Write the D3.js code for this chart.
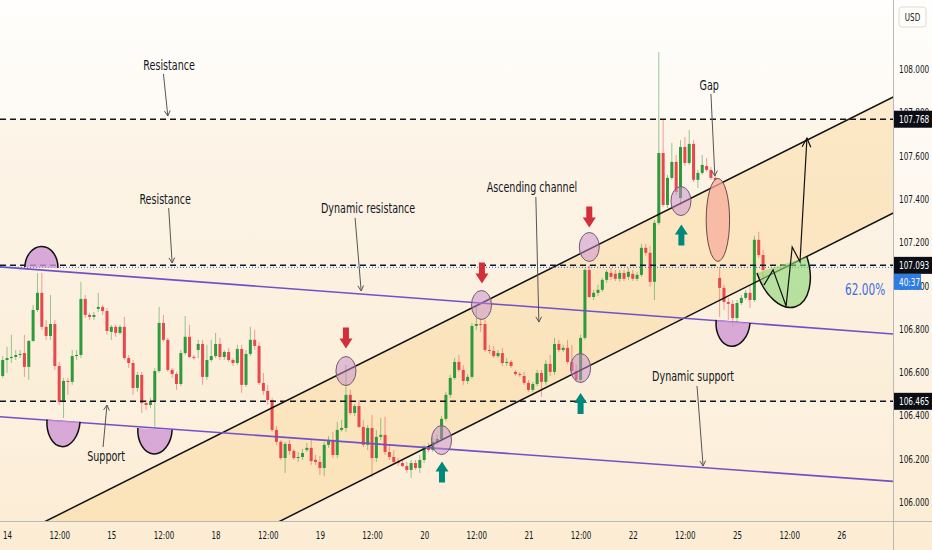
<!DOCTYPE html>
<html>
<head>
<meta charset="utf-8">
<script src="https://cdn.jsdelivr.net/npm/d3@7"></script>
<style>
  body { margin: 0; background: #fff; }
  svg { display: block; }
  text { font-family: "Liberation Sans Narrow", "Arial Narrow", "DejaVu Sans Condensed", sans-serif; }
</style>
</head>
<body>
<svg id="chart" width="932" height="550"></svg>
<script>
// hourly candles, one slot per hour (slot 1 = day 14 00:00)
const opens = [
  106.582,106.656,106.665,106.670,106.679,106.688,106.624,106.744,106.887,106.966,
  106.809,106.767,106.822,106.628,106.462,106.559,106.555,106.674,106.679,106.938,
  106.864,106.855,106.892,106.901,106.882,106.786,106.809,106.781,106.809,106.665,
  106.642,106.527,106.587,106.457,106.448,106.467,106.605,106.827,106.749,106.610,
  106.591,106.545,106.688,106.763,106.670,106.702,106.730,106.578,106.656,106.674,
  106.730,106.670,106.693,106.656,106.642,106.707,106.541,106.684,106.749,106.721,
  106.550,106.513,106.471,106.333,106.278,106.203,106.268,106.236,106.203,106.208,
  106.240,106.250,106.195,106.185,106.157,106.264,106.287,106.217,106.333,106.342,
  106.495,106.411,106.443,106.347,106.264,106.342,106.203,106.301,106.310,106.231,
  106.208,106.185,106.180,106.166,106.148,106.180,106.157,106.194,106.255,106.240,
  106.278,106.291,106.384,106.495,106.573,106.647,106.610,106.559,106.578,106.813,
  106.822,106.822,106.702,106.698,106.674,106.688,106.642,106.647,106.601,106.591,
  106.582,106.550,106.518,106.545,106.596,106.555,106.638,106.601,106.730,106.702,
  106.712,106.647,106.605,106.564,106.758,107.072,106.947,106.966,106.980,107.026,
  107.058,107.054,107.031,107.058,107.040,107.054,107.031,107.049,107.174,107.151,
  107.017,107.289,107.612,107.372,107.497,107.571,107.404,107.640,107.566,107.654,
  107.488,107.520,107.552,107.534,107.497,107.035,106.989,106.924,106.915,106.850,
  106.919,106.943,106.966,106.933,107.211,107.141
];
const highs = [
  106.674,106.717,106.772,106.702,106.702,106.772,106.749,106.910,107.058,107.058,
  106.841,106.956,106.841,106.647,106.573,106.573,106.702,106.702,107.017,106.956,
  106.873,106.878,106.966,106.910,106.896,106.818,106.818,106.818,106.855,106.679,
  106.656,106.601,106.601,106.471,106.481,106.619,106.901,106.864,106.758,106.619,
  106.601,106.702,106.859,106.818,106.679,106.749,106.749,106.726,106.749,106.781,
  106.758,106.702,106.712,106.665,106.726,106.726,106.702,106.809,106.795,106.740,
  106.596,106.541,106.481,106.351,106.287,106.278,106.287,106.245,106.231,106.245,
  106.273,106.287,106.217,106.212,106.278,106.305,106.324,106.370,106.379,106.633,
  106.518,106.453,106.471,106.379,106.356,106.402,106.333,106.388,106.393,106.264,
  106.240,106.203,106.194,106.185,106.194,106.194,106.217,106.264,106.273,106.296,
  106.310,106.397,106.509,106.587,106.665,106.679,106.633,106.591,106.827,106.910,
  106.850,106.841,106.726,106.721,106.702,106.712,106.665,106.656,106.610,106.601,
  106.601,106.564,106.555,106.610,106.610,106.656,106.679,106.758,106.749,106.726,
  106.749,106.726,106.633,106.772,107.081,107.095,106.980,107.003,107.035,107.072,
  107.081,107.072,107.072,107.072,107.081,107.072,107.063,107.192,107.192,107.183,
  107.303,108.079,107.765,107.511,107.658,107.603,107.672,107.686,107.719,107.672,
  107.534,107.603,107.589,107.548,107.511,107.086,107.003,106.943,106.933,106.933,
  106.956,106.980,107.003,107.229,107.248,107.164
];
const lows = [
  106.573,106.596,106.642,106.656,106.665,106.578,106.564,106.740,106.878,106.795,
  106.749,106.749,106.610,106.448,106.388,106.495,106.541,106.656,106.665,106.850,
  106.841,106.841,106.878,106.864,106.772,106.749,106.763,106.772,106.656,106.619,
  106.495,106.509,106.411,106.425,106.434,106.347,106.596,106.740,106.601,106.573,
  106.518,106.536,106.679,106.665,106.656,106.665,106.541,106.564,106.647,106.665,
  106.656,106.656,106.647,106.628,106.633,106.504,106.532,106.674,106.702,106.541,
  106.495,106.448,106.324,106.264,106.194,106.134,106.217,106.194,106.185,106.194,
  106.231,106.171,106.171,106.125,106.120,106.250,106.203,106.203,106.324,106.324,
  106.402,106.397,106.342,106.255,106.240,106.116,106.185,106.287,106.217,106.194,
  106.171,106.166,106.162,106.134,106.111,106.148,106.134,106.180,106.231,106.231,
  106.264,106.282,106.374,106.481,106.564,106.601,106.541,106.545,106.568,106.795,
  106.786,106.693,106.684,106.665,106.665,106.628,106.628,106.619,106.582,106.578,
  106.541,106.509,106.509,106.536,106.486,106.541,106.582,106.587,106.693,106.693,
  106.638,106.596,106.555,106.550,106.749,106.943,106.933,106.952,106.970,107.012,
  107.026,107.021,107.017,107.021,107.026,107.021,107.021,107.040,107.137,106.994,
  106.933,107.280,107.363,107.358,107.488,107.418,107.372,107.552,107.557,107.478,
  107.451,107.511,107.525,107.488,107.478,106.855,106.887,106.841,106.809,106.818,
  106.910,106.933,106.896,106.924,107.128,107.003
];
const closes = [
  106.656,106.665,106.670,106.679,106.684,106.624,106.744,106.887,106.966,106.809,
  106.767,106.822,106.628,106.462,106.559,106.555,106.674,106.679,106.938,106.864,
  106.855,106.864,106.901,106.882,106.790,106.809,106.781,106.809,106.665,106.642,
  106.527,106.587,106.457,106.448,106.467,106.605,106.827,106.749,106.610,106.591,
  106.545,106.688,106.763,106.670,106.668,106.730,106.578,106.656,106.674,106.730,
  106.670,106.693,106.656,106.642,106.707,106.541,106.684,106.749,106.721,106.550,
  106.513,106.471,106.333,106.278,106.203,106.268,106.236,106.203,106.208,106.226,
  106.250,106.189,106.185,106.157,106.264,106.287,106.217,106.333,106.342,106.495,
  106.411,106.443,106.347,106.264,106.342,106.203,106.301,106.310,106.231,106.208,
  106.185,106.180,106.166,106.148,106.180,106.157,106.194,106.255,106.240,106.278,
  106.291,106.384,106.495,106.573,106.647,106.610,106.559,106.578,106.813,106.822,
  106.818,106.702,106.698,106.674,106.688,106.642,106.647,106.628,106.591,106.587,
  106.550,106.518,106.545,106.596,106.555,106.638,106.601,106.730,106.702,106.712,
  106.647,106.605,106.564,106.758,107.072,106.947,106.966,106.980,107.026,107.063,
  107.040,107.031,107.058,107.031,107.063,107.031,107.049,107.174,107.151,107.017,
  107.289,107.612,107.372,107.497,107.571,107.432,107.640,107.566,107.654,107.488,
  107.520,107.557,107.534,107.497,107.488,106.989,106.924,106.915,106.850,106.919,
  106.943,106.966,106.933,107.211,107.141,107.072
];

const xTickSlots = [1, 13, 25, 37, 49, 61, 73, 85, 97, 109, 121, 133, 145, 157, 169, 181, 193];
const xTickLabels = ["14", "12:00", "15", "12:00", "18", "12:00", "19", "12:00", "20", "12:00",
                     "21", "12:00", "22", "12:00", "25", "12:00", "26"];
const yTicks = [106.0, 106.2, 106.4, 106.6, 106.8, 107.0, 107.2, 107.4, 107.6, 107.8, 108.0];

// drawings
const levels = [107.768, 107.093, 106.465];
const lastPrice = 107.084;
const countdown = "40:37";
const channelUpper = [[0, 105.812], [205, 107.871]];
const channelLower = [[0, 105.268], [205, 107.335]];
const trendUpper = [[0, 107.085], [205, 106.776]];
const trendLower = [[0, 106.393], [205, 106.095]];
const touchEllipses = [[79, 106.605], [101, 106.286], [110.2, 106.910], [135, 107.178], [133, 106.619], [156.1, 107.390]];
const gapEllipse = [164.6, 107.303];
const downArrows = [[79, 106.709], [110.3, 107.009], [135, 107.268]];
const upArrows = [[101.1, 106.187], [133, 106.503], [156.2, 107.282]];
const bowls = [
  { a: [5.1, 107.085], b: [12.7, 107.081], depth: 21, up: true, kind: "purple" },
  { a: [10.2, 106.381], b: [17.8, 106.370], depth: 26, up: false, kind: "purple" },
  { a: [31.1, 106.342], b: [39.0, 106.333], depth: 25, up: false, kind: "purple" },
  { a: [164.2, 106.841], b: [172.0, 106.827], depth: 25, up: false, kind: "purple" },
  { a: [173.6, 107.058], b: [185.1, 107.132], depth: 44, up: false, kind: "green" }
];
const projection = [[175.2, 107.002], [177.3, 107.072], [180.3, 106.905], [181.7, 107.178], [183.5, 107.109], [185.1, 107.681]];
const notes = [
  { text: "Resistance", at: [38.3, 107.995], from: [37.0, 107.977], to: [38.0, 107.783] },
  { text: "Resistance", at: [37.4, 107.376], from: [38.2, 107.358], to: [39.0, 107.104] },
  { text: "Dynamic resistance", at: [84.1, 107.335], from: [81.1, 107.312], to: [82.5, 106.975] },
  { text: "Ascending channel", at: [121.8, 107.432], from: [122.7, 107.409], to: [123.4, 106.831] },
  { text: "Gap", at: [162.6, 107.903], from: [163.0, 107.885], to: [163.9, 107.506] },
  { text: "Support", at: [23.8, 106.189], from: [23.1, 106.254], to: [24.0, 106.448] },
  { text: "Dynamic support", at: [158.9, 106.559], from: [159.8, 106.536], to: [161.2, 106.166] }
];
const fibLabel = { text: "62.00%", at: [198.5, 106.956] };

const svg = d3.select("#chart");
const W = 932, H = 550;
const plotW = 893, plotH = 521;

let x = d3.scaleLinear().domain([0, 205]).range([2.7, 2.7 + 4.345 * 205]);
let y = d3.scaleLinear().domain([106, 108]).range([502, 69]);

// the installed condensed font is wider than the chart's, squeeze text horizontally
function squeeze(sel, k) {
  sel.each(function () {
    let w = this.getComputedTextLength();
    d3.select(this).attr("textLength", w * k).attr("lengthAdjust", "spacingAndGlyphs");
  });
}

// background gradient
const defs = svg.append("defs");
const bg = defs.append("linearGradient").attr("id", "bg").attr("x1", 0).attr("y1", 0).attr("x2", 0).attr("y2", 1);
bg.append("stop").attr("offset", "0%").attr("stop-color", "#fffefc");
bg.append("stop").attr("offset", "45%").attr("stop-color", "#fdf6ec");
bg.append("stop").attr("offset", "100%").attr("stop-color", "#fcecd3");
defs.append("clipPath").attr("id", "plot-clip")
  .append("rect").attr("width", plotW).attr("height", plotH);

svg.append("rect").attr("width", W).attr("height", H).attr("fill", "url(#bg)");

let g = svg.append("g").attr("clip-path", "url(#plot-clip)");

// zone between the two horizontal levels
g.append("rect")
  .attr("x", 0).attr("width", plotW)
  .attr("y", y(levels[0])).attr("height", y(levels[2]) - y(levels[0]))
  .attr("fill", "rgba(250, 226, 190, 0.22)");

// extend a 2-point line across the plot
function extend(pts, s0, s1) {
  let [a, b] = pts;
  let k = (b[1] - a[1]) / (b[0] - a[0]);
  return [[s0, a[1] + (s0 - a[0]) * k], [s1, a[1] + (s1 - a[0]) * k]];
}
const lineGen = d3.line().x((d) => x(d[0])).y((d) => y(d[1]));

// ascending channel fill
let cu = extend(channelUpper, -2, 208);
let cl = extend(channelLower, -2, 208);
g.append("path")
  .attr("d", lineGen([cu[0], cu[1], cl[1], cl[0]]) + "Z")
  .attr("fill", "rgba(249, 210, 140, 0.38)");

// candles
let candles = opens.map((o, i) => ({ slot: i, o: o, h: highs[i], l: lows[i], c: closes[i] }));
const upColor = "#2f9a3c", downColor = "#e8474c";

let cg = g.append("g");
cg.selectAll("line.wick")
  .data(candles)
  .enter()
  .append("line")
  .attr("class", "wick")
  .attr("x1", (d) => x(d.slot)).attr("x2", (d) => x(d.slot))
  .attr("y1", (d) => y(d.h)).attr("y2", (d) => y(d.l))
  .attr("stroke", (d) => (d.c >= d.o ? upColor : downColor))
  .attr("stroke-opacity", 0.5)
  .attr("stroke-width", 1);
cg.selectAll("rect.body")
  .data(candles)
  .enter()
  .append("rect")
  .attr("class", "body")
  .attr("x", (d) => x(d.slot) - 1.5)
  .attr("width", 3)
  .attr("y", (d) => Math.min(y(d.o), y(d.c)))
  .attr("height", (d) => Math.max(1, Math.abs(y(d.o) - y(d.c))))
  .attr("fill", (d) => (d.c >= d.o ? upColor : downColor));

// channel lines
[cu, cl].forEach(function (pts) {
  g.append("path").attr("d", lineGen(pts)).attr("fill", "none")
    .attr("stroke", "#111").attr("stroke-width", 1.5);
});

// dynamic (purple) lines
[trendUpper, trendLower].forEach(function (pts) {
  g.append("path").attr("d", lineGen(extend(pts, -2, 208))).attr("fill", "none")
    .attr("stroke", "#7150c8").attr("stroke-width", 1.6);
});

// horizontal levels
levels.forEach(function (p) {
  g.append("line")
    .attr("x1", 0).attr("x2", plotW)
    .attr("y1", y(p)).attr("y2", y(p))
    .attr("stroke", "#131722").attr("stroke-width", 1.5)
    .attr("stroke-dasharray", "6,4");
});

// last price line
g.append("line")
  .attr("x1", 0).attr("x2", plotW)
  .attr("y1", y(lastPrice)).attr("y2", y(lastPrice))
  .attr("stroke", "#2962ff").attr("stroke-width", 1)
  .attr("stroke-dasharray", "1,2");

// semi-ellipses (bowls / domes)
bowls.forEach(function (b) {
  let x1 = x(b.a[0]), y1 = y(b.a[1]), x2 = x(b.b[0]), y2 = y(b.b[1]);
  let rx = Math.hypot(x2 - x1, y2 - y1) / 2;
  let rot = (Math.atan2(y2 - y1, x2 - x1) * 180) / Math.PI;
  let arc = "M" + x1 + "," + y1 + " A" + rx + "," + b.depth + " " + rot + " 0 " + (b.up ? 1 : 0) + " " + x2 + "," + y2;
  g.append("path").attr("d", arc + " Z")
    .attr("fill", b.kind === "green" ? "rgba(140, 214, 118, 0.62)" : "rgba(206, 150, 214, 0.8)");
  g.append("path").attr("d", arc).attr("fill", "none")
    .attr("stroke", "#111").attr("stroke-width", 1.5);
});

// touch ellipses
g.selectAll("ellipse.touch")
  .data(touchEllipses)
  .enter()
  .append("ellipse")
  .attr("class", "touch")
  .attr("cx", (d) => x(d[0])).attr("cy", (d) => y(d[1]))
  .attr("rx", 10).attr("ry", 14.5)
  .attr("fill", "rgba(200, 140, 205, 0.5)")
  .attr("stroke", "#6d5c6e").attr("stroke-width", 1);

g.append("ellipse")
  .attr("cx", x(gapEllipse[0])).attr("cy", y(gapEllipse[1]))
  .attr("rx", 11.7).attr("ry", 41.5)
  .attr("fill", "rgba(247, 172, 156, 0.75)")
  .attr("stroke", "#6b4a44").attr("stroke-width", 1);

// block arrows (tip at data point)
function blockArrow(tx, ty, dir, color) {
  // dir = 1 points down, -1 points up
  let hw = 6.5, sw = 3, hh = 10, len = 21;
  let pts = [
    [tx, ty],
    [tx - hw, ty - dir * hh],
    [tx - sw, ty - dir * hh],
    [tx - sw, ty - dir * len],
    [tx + sw, ty - dir * len],
    [tx + sw, ty - dir * hh],
    [tx + hw, ty - dir * hh]
  ];
  g.append("path").attr("d", "M" + pts.join("L") + "Z").attr("fill", color);
}
downArrows.forEach((d) => blockArrow(x(d[0]), y(d[1]), 1, "#d32f3a"));
upArrows.forEach((d) => blockArrow(x(d[0]), y(d[1]), -1, "#00897b"));

// open arrow head helper
function openHead(px, py, fromX, fromY, size, angle) {
  let a = Math.atan2(py - fromY, px - fromX);
  let p1 = [px - size * Math.cos(a - angle), py - size * Math.sin(a - angle)];
  let p2 = [px - size * Math.cos(a + angle), py - size * Math.sin(a + angle)];
  return "M" + p1 + "L" + px + "," + py + "L" + p2;
}

// projected path
let proj = projection.map((d) => [x(d[0]), y(d[1])]);
g.append("path").attr("d", "M" + proj.join("L")).attr("fill", "none")
  .attr("stroke", "#111").attr("stroke-width", 1.2);
let pe = proj[proj.length - 1], pb = proj[proj.length - 2];
g.append("path").attr("d", openHead(pe[0], pe[1], pb[0], pb[1], 10, 0.45))
  .attr("fill", "none").attr("stroke", "#111").attr("stroke-width", 1.2);

// text notes with thin arrows
notes.forEach(function (n) {
  let fx = x(n.from[0]), fy = y(n.from[1]), tx = x(n.to[0]), ty = y(n.to[1]);
  g.append("line").attr("x1", fx).attr("y1", fy).attr("x2", tx).attr("y2", ty)
    .attr("stroke", "#555").attr("stroke-width", 1);
  g.append("path").attr("d", openHead(tx, ty, fx, fy, 6, 0.5))
    .attr("fill", "none").attr("stroke", "#555").attr("stroke-width", 1);
  g.append("text")
    .attr("class", "note")
    .attr("x", x(n.at[0])).attr("y", y(n.at[1]))
    .attr("text-anchor", "middle")
    .style("font-size", "14px")
    .attr("fill", "#131722")
    .text(n.text);
});
squeeze(g.selectAll("text.note"), 0.76);

let fib = g.append("text")
  .attr("x", x(fibLabel.at[0])).attr("y", y(fibLabel.at[1]))
  .attr("text-anchor", "middle")
  .style("font-size", "15px")
  .attr("fill", "#3b6fe0")
  .text(fibLabel.text);
squeeze(fib, 0.78);

// axes frame
svg.append("line").attr("x1", plotW + 0.5).attr("x2", plotW + 0.5).attr("y1", 0).attr("y2", H)
  .attr("stroke", "#b8b8b8").attr("stroke-width", 1);
svg.append("line").attr("x1", 0).attr("x2", W).attr("y1", plotH + 0.5).attr("y2", plotH + 0.5)
  .attr("stroke", "#b8b8b8").attr("stroke-width", 1);

// price axis
let yAxis = svg.append("g")
  .attr("transform", "translate(" + plotW + ",0)")
  .call(d3.axisRight(y).tickValues(yTicks).tickFormat(d3.format(".3f")).tickSize(0).tickPadding(6));
yAxis.select(".domain").remove();
yAxis.selectAll("text").style("font-size", "11px").attr("fill", "#131722");
squeeze(yAxis.selectAll("text"), 0.74);

// time axis
let xAxis = svg.append("g")
  .attr("transform", "translate(0," + plotH + ")")
  .call(d3.axisBottom(x).tickValues(xTickSlots).tickFormat((d, i) => xTickLabels[i]).tickSize(0).tickPadding(10));
xAxis.select(".domain").remove();
xAxis.selectAll("text").style("font-size", "11px").attr("fill", "#131722");
squeeze(xAxis.selectAll("text"), 0.72);

// currency box
svg.append("rect").attr("x", 899).attr("y", 7).attr("width", 27).attr("height", 20).attr("rx", 3)
  .attr("fill", "#fffdfa").attr("stroke", "#e0dcd6");
let usd = svg.append("text").attr("x", 912.5).attr("y", 21).attr("text-anchor", "middle")
  .style("font-size", "10px").attr("fill", "#131722").text("USD");
squeeze(usd, 0.8);

// price tags
levels.forEach(function (p) {
  svg.append("rect").attr("x", plotW + 1).attr("y", y(p) - 8.5).attr("width", W - plotW - 1).attr("height", 17)
    .attr("fill", "#0c0e15");
  let t = svg.append("text").attr("x", plotW + 6).attr("y", y(p) + 4)
    .style("font-size", "11px").attr("fill", "#fff").text(d3.format(".3f")(p));
  squeeze(t, 0.74);
});
svg.append("rect").attr("x", plotW + 1).attr("y", y(levels[1]) + 8.5).attr("width", 27).attr("height", 16)
  .attr("fill", "#2f7de1");
let cd = svg.append("text").attr("x", plotW + 6).attr("y", y(levels[1]) + 20.5)
  .style("font-size", "11px").attr("fill", "#fff").text(countdown);
squeeze(cd, 0.74);
</script>
</body>
</html>
